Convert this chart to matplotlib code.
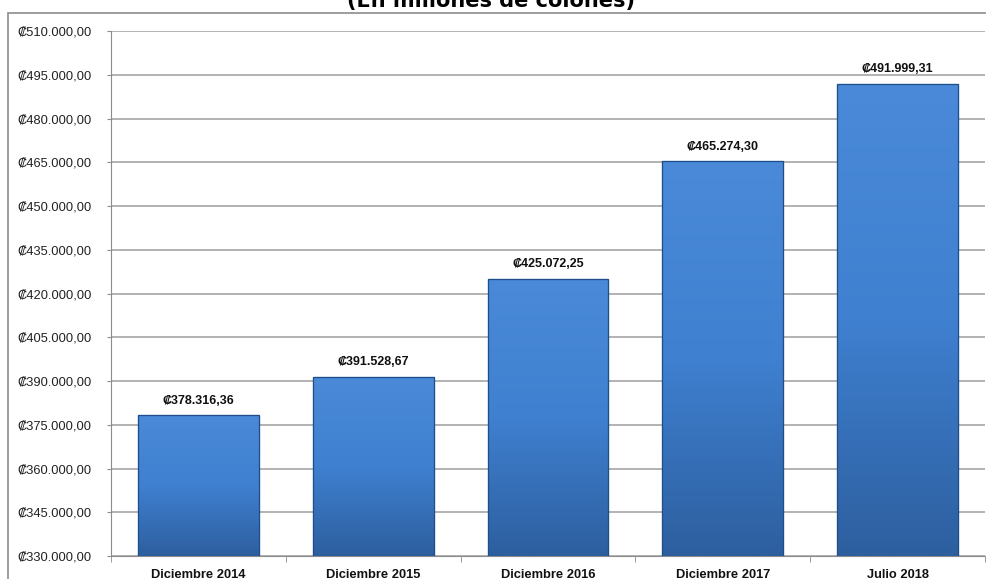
import numpy as np
import matplotlib.pyplot as plt
from matplotlib.patches import Rectangle
from matplotlib.colors import LinearSegmentedColormap

plt.rcParams['font.family'] = ['Liberation Sans', 'DejaVu Sans']

# data
categorias = ['Diciembre 2014', 'Diciembre 2015', 'Diciembre 2016', 'Diciembre 2017', 'Julio 2018']
valores = [378316.36, 391528.67, 425072.25, 465274.30, 491999.31]
etiquetas = ['₡378.316,36', '₡391.528,67', '₡425.072,25', '₡465.274,30', '₡491.999,31']
y_ticks = list(range(330000, 510001, 15000))


def fmt_colones(v):
    s = f"{v:,.2f}"
    s = s.replace(',', 'X').replace('.', ',').replace('X', '.')
    return '₡' + s


fig = plt.figure(figsize=(9.87, 5.79), dpi=100)
ax = fig.add_axes([111/987, (579-556)/579, (985-111)/987, (556-31)/579])

# outer chart border
fig.patches.append(Rectangle((8/987, -0.1), 1.0, (579-13)/579 + 0.1, transform=fig.transFigure,
                             fill=False, edgecolor='#8c8c8c', linewidth=1.2, zorder=0))

x = np.arange(len(categorias))
ancho = 0.69
barras = ax.bar(x, valores, width=ancho, color='#3a78c8', edgecolor='#1f4f8a', linewidth=0.8, zorder=3)

# gradient fill for bars
cmap = LinearSegmentedColormap.from_list('azul', ['#2d5f9f', '#3f80d0', '#4a8ad8'])
grad = np.linspace(0, 1, 256).reshape(-1, 1)
for b in barras:
    x0 = b.get_x()
    w = b.get_width()
    h = b.get_height()
    im = ax.imshow(grad, cmap=cmap, aspect='auto', origin='lower',
                   extent=[x0, x0 + w, 330000, h], zorder=3.5)
    im.set_clip_path(b)
    ax.add_patch(Rectangle((x0, 330000), w, h - 330000, fill=False,
                           edgecolor='#1f4f8a', linewidth=0.9, zorder=4))

for xi, v, t in zip(x, valores, etiquetas):
    ax.annotate(t, (xi, v), xytext=(0, 6), textcoords='offset points',
                ha='center', va='bottom', fontsize=9, fontweight='bold', color='#111111')

ax.set_xlim(-0.5, len(categorias) - 0.5)
ax.set_ylim(330000, 510000)
ax.set_yticks(y_ticks)
ax.set_yticklabels([fmt_colones(v) for v in y_ticks], fontsize=9.3, color='#222222')
ax.set_xticks(x)
ax.set_xticklabels(categorias, fontsize=9.3, fontweight='bold', color='#111111')
ax.set_xticks(np.arange(-0.5, len(categorias)), minor=True)
ax.tick_params(axis='x', which='major', length=0, pad=9)
ax.tick_params(axis='x', which='minor', length=4, color='#8c8c8c')
ax.tick_params(axis='y', length=3, color='#8c8c8c', pad=11)

ax.yaxis.grid(True, color='#a6a6a6', linewidth=1.2, zorder=0)
ax.set_axisbelow(True)
for s in ['top', 'right']:
    ax.spines[s].set_visible(False)
ax.spines['left'].set_color('#8c8c8c')
ax.spines['bottom'].set_color('#8c8c8c')

fig.text(0.497, 0.998, '(En millones de colones)', ha='center', va='center',
         fontsize=15, fontweight='bold', family=['DejaVu Sans'])

fig.savefig('out.png', dpi=100)
